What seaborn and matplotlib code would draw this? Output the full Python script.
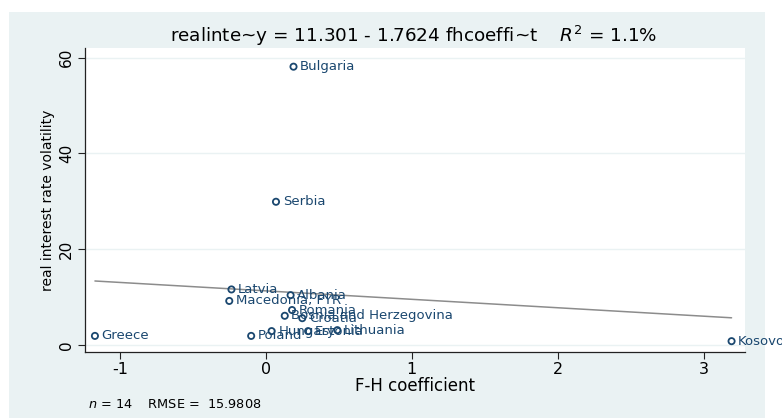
import numpy as np
import pandas as pd
import matplotlib
matplotlib.use("Agg")
import matplotlib.pyplot as plt
import matplotlib.patches as mpatches
import seaborn as sns

# data
countries = ["Bulgaria", "Serbia", "Latvia", "Albania", "Macedonia, FYR", "Romania",
             "Bosnia and Herzegovina", "Croatia", "Hungary", "Estonia", "Lithuania",
             "Poland", "Greece", "Kosovo"]
fh_coeff = [0.19, 0.07, -0.235, 0.17, -0.25, 0.18, 0.13, 0.25, 0.04, 0.29, 0.49,
            -0.10, -1.17, 3.19]
rate_vol = [58.1, 29.9, 11.6, 10.4, 9.2, 7.3, 6.1, 5.6, 2.9, 2.9, 3.1, 1.9, 1.9, 0.8]

intercept = 11.301
slope = -1.7624
xticks = [-1, 0, 1, 2, 3]
yticks = [0, 20, 40, 60]

df = pd.DataFrame({"country": countries, "fh": fh_coeff, "vol": rate_vol})

navy = "#1a476f"
bg = "#eaf2f3"

sns.set_style("white")
plt.rcParams["font.family"] = ["DejaVu Sans"]
plt.rcParams["mathtext.fontset"] = "dejavusans"
plt.rcParams["text.color"] = "black"
plt.rcParams["axes.labelcolor"] = "black"
plt.rcParams["xtick.color"] = "black"
plt.rcParams["ytick.color"] = "black"

W, H = 782, 418
fig = plt.figure(figsize=(W / 100, H / 100), dpi=100, facecolor="white")
# outer graph region (drawn below the axes)
fig.patches.append(mpatches.Rectangle((9 / W, 0), (765 - 9) / W, (H - 12) / H,
                                      transform=fig.transFigure, facecolor=bg,
                                      edgecolor="none", zorder=-10))

ax = fig.add_axes([85 / W, (H - 352) / H, (745 - 85) / W, (352 - 48) / H])
ax.set_zorder(1)
ax.set_facecolor("white")

# fitted line over the range of x
xfit = np.array([min(fh_coeff), max(fh_coeff)])
sns.lineplot(x=xfit, y=intercept + slope * xfit, ax=ax, color="#8c8c8c", lw=1.1, zorder=2)

sns.scatterplot(data=df, x="fh", y="vol", ax=ax, marker="o", s=20,
                facecolors="none", edgecolor=navy, linewidth=1.3, zorder=3)

for _, r in df.iterrows():
    ax.annotate(r["country"], (r["fh"], r["vol"]), xytext=(4.8, 0),
                textcoords="offset points", ha="left", va="center",
                fontsize=9.5, color=navy, annotation_clip=False, zorder=4)

ax.set_xlim(-1.238, 3.282)
ax.set_ylim(-1.46, 62.0)
ax.set_xticks(xticks)
ax.set_yticks(yticks)
ax.set_xticklabels([str(t) for t in xticks], fontsize=11.5)
ax.set_yticklabels([str(t) for t in yticks], fontsize=11, rotation=90, va="center")
ax.tick_params(axis="both", direction="out", length=5, width=0.8, color="#222222",
               left=True, bottom=True, pad=2)
ax.tick_params(axis="y", pad=3)

for t in yticks:
    ax.axhline(t, color=bg, lw=1.0, zorder=1)

for s in ["top", "right"]:
    ax.spines[s].set_visible(False)
for s in ["left", "bottom"]:
    ax.spines[s].set_color("#222222")
    ax.spines[s].set_linewidth(0.9)

ax.set_xlabel("F-H coefficient", fontsize=12, labelpad=0)
ax.set_ylabel("real interest rate volatility", fontsize=10, labelpad=3)

fig.text(414 / W, 1 - 36 / H,
         r"realinte~y = 11.301 - 1.7624 fhcoeffi~t    $R^2$ = 1.1%",
         ha="center", va="center", fontsize=13.2)
fig.text(88 / W, 1 - 405 / H, r"$n$ = 14    RMSE =  15.9808",
         ha="left", va="center", fontsize=9.3)

fig.savefig("out.png", dpi=100, facecolor="white")
